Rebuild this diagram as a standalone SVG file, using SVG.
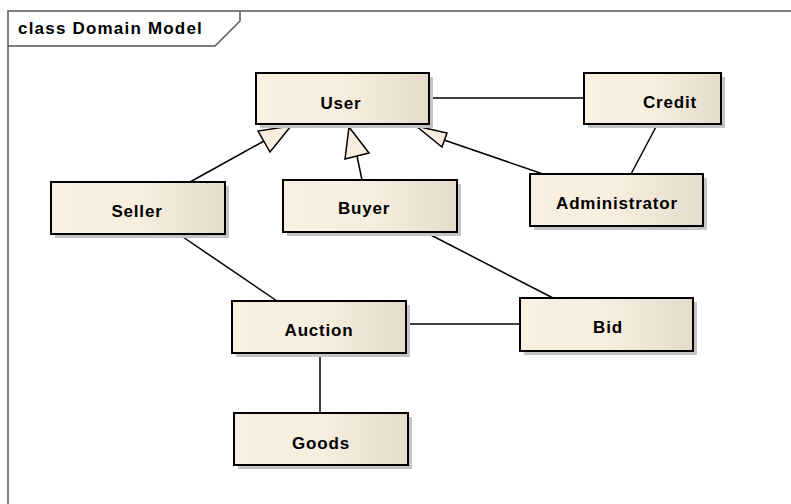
<svg xmlns="http://www.w3.org/2000/svg" width="791" height="504" viewBox="0 0 791 504">
<defs>
<linearGradient id="fill" x1="0" y1="0" x2="1" y2="0">
<stop offset="0" stop-color="#FAF0E2"/>
<stop offset="0.5" stop-color="#F8EEDF"/>
<stop offset="1" stop-color="#E5DBCB"/>
</linearGradient>
</defs>
<style>
.shadow{fill:#C4C4C4;}
.box{fill:url(#fill);stroke:#000;stroke-width:2;}
.lbl{font-family:"Liberation Sans",Arial,sans-serif;font-weight:bold;font-size:17px;letter-spacing:0.8px;fill:#000;text-anchor:middle;}
.conn{stroke:#000;stroke-width:1.5;fill:none;}
.tri{fill:#F8EEDF;stroke:#000;stroke-width:1.5;}
.frame{fill:none;stroke:#555;stroke-width:1.5;}
</style>
<rect width="791" height="504" fill="#fff"/>
<g id="frame">
<path class="frame" d="M8,504 V11 H791"/>
<path class="frame" d="M8,46 H215 L240,21 V11"/>
<text x="18" y="34" font-family="'Liberation Sans',Arial,sans-serif" font-weight="bold" font-size="17" letter-spacing="1.2" fill="#000">class Domain Model</text>
</g>
<g id="connectors">
<line class="conn" x1="429" y1="98" x2="584" y2="98"/>
<line class="conn" x1="657" y1="125" x2="631" y2="174"/>
<line class="conn" x1="406" y1="324" x2="520" y2="324"/>
<line class="conn" x1="320" y1="353" x2="320" y2="413"/>
<line class="conn" x1="180" y1="235" x2="277" y2="301"/>
<line class="conn" x1="425" y1="232" x2="553" y2="298"/>
<line class="conn" x1="190" y1="182" x2="264" y2="141"/>
<polygon class="tri" points="291,126 258,131 270,152"/>
<line class="conn" x1="362" y1="180" x2="357" y2="156"/>
<polygon class="tri" points="349,127 345,159 369,153"/>
<line class="conn" x1="543" y1="174" x2="444" y2="140"/>
<polygon class="tri" points="416,126 442,147 447,133"/>
</g>
<g id="User">
<rect class="shadow" x="260" y="77" width="173" height="51"/>
<rect class="box" x="256" y="73" width="173" height="51"/>
<text class="lbl" x="341" y="109">User</text>
</g>
<g id="Credit">
<rect class="shadow" x="588" y="77" width="137" height="51"/>
<rect class="box" x="584" y="73" width="137" height="51"/>
<text class="lbl" x="670" y="108">Credit</text>
</g>
<g id="Administrator">
<rect class="shadow" x="534" y="178" width="173" height="52"/>
<rect class="box" x="530" y="174" width="173" height="52"/>
<text class="lbl" x="617" y="209">Administrator</text>
</g>
<g id="Seller">
<rect class="shadow" x="55" y="186" width="174" height="52"/>
<rect class="box" x="51" y="182" width="174" height="52"/>
<text class="lbl" x="137" y="217">Seller</text>
</g>
<g id="Buyer">
<rect class="shadow" x="287" y="184" width="174" height="52"/>
<rect class="box" x="283" y="180" width="174" height="52"/>
<text class="lbl" x="364" y="214">Buyer</text>
</g>
<g id="Auction">
<rect class="shadow" x="236" y="305" width="174" height="52"/>
<rect class="box" x="232" y="301" width="174" height="52"/>
<text class="lbl" x="319" y="336">Auction</text>
</g>
<g id="Bid">
<rect class="shadow" x="524" y="302" width="173" height="53"/>
<rect class="box" x="520" y="298" width="173" height="53"/>
<text class="lbl" x="608" y="333">Bid</text>
</g>
<g id="Goods">
<rect class="shadow" x="238" y="417" width="174" height="52"/>
<rect class="box" x="234" y="413" width="174" height="52"/>
<text class="lbl" x="321" y="449">Goods</text>
</g>
</svg>
